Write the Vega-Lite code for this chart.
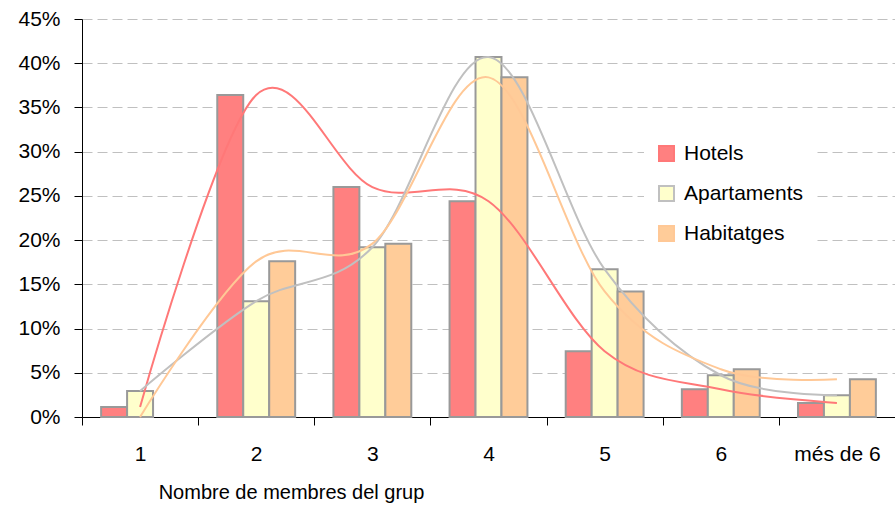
{
 "$schema": "https://vega.github.io/schema/vega-lite/v6.json",
 "width": 813,
 "height": 398,
 "autosize": {"type": "none"},
 "padding": {"left": 82, "top": 19, "right": 0, "bottom": 89},
 "background": "white",
 "config": {"view": {"stroke": null}, "font": "Liberation Sans"},
 "data": {"values": [
   {"cat": "1", "series": "Hotels", "value": 0.0113},
   {"cat": "1", "series": "Apartaments", "value": 0.0294},
   {"cat": "1", "series": "Habitatges", "value": 0},
   {"cat": "2", "series": "Hotels", "value": 0.364},
   {"cat": "2", "series": "Apartaments", "value": 0.131},
   {"cat": "2", "series": "Habitatges", "value": 0.176},
   {"cat": "3", "series": "Hotels", "value": 0.26},
   {"cat": "3", "series": "Apartaments", "value": 0.192},
   {"cat": "3", "series": "Habitatges", "value": 0.196},
   {"cat": "4", "series": "Hotels", "value": 0.244},
   {"cat": "4", "series": "Apartaments", "value": 0.407},
   {"cat": "4", "series": "Habitatges", "value": 0.384},
   {"cat": "5", "series": "Hotels", "value": 0.0744},
   {"cat": "5", "series": "Apartaments", "value": 0.167},
   {"cat": "5", "series": "Habitatges", "value": 0.142},
   {"cat": "6", "series": "Hotels", "value": 0.0314},
   {"cat": "6", "series": "Apartaments", "value": 0.0472},
   {"cat": "6", "series": "Habitatges", "value": 0.054},
   {"cat": "més de 6", "series": "Hotels", "value": 0.0159},
   {"cat": "més de 6", "series": "Apartaments", "value": 0.0246},
   {"cat": "més de 6", "series": "Habitatges", "value": 0.0427}
 ]},
 "layer": [
  {
   "transform": [{"filter": "datum.value > 0"}],
   "mark": {"type": "bar", "stroke": "#999999", "strokeWidth": 2},
   "encoding": {
    "x": {
     "field": "cat", "type": "nominal", "sort": null,
     "scale": {"paddingInner": 0, "paddingOuter": 0},
     "axis": {
      "title": "Nombre de membres del grup",
      "labelAngle": 0,
      "tickBand": "extent",
      "tickSize": 8,
      "tickColor": "#000000",
      "domainColor": "#000000",
      "labelFontSize": 21,
      "labelPadding": 18,
      "labelColor": "#000000",
      "titleFontSize": 20,
      "titleFontWeight": "normal",
      "titleColor": "#000000",
      "titleX": 209,
      "titleY": 81,
      "titleAlign": "center",
      "titleBaseline": "alphabetic",
      "grid": false
     }
    },
    "xOffset": {"field": "series", "sort": ["Hotels", "Apartaments", "Habitatges"], "scale": {"paddingInner": 0, "paddingOuter": 0.737}},
    "y": {
     "field": "value", "type": "quantitative",
     "scale": {"domain": [0, 0.45], "nice": false},
     "axis": {
      "title": null,
      "values": [0, 0.05, 0.1, 0.15, 0.2, 0.25, 0.3, 0.35, 0.4, 0.45],
      "format": ".0%",
      "tickSize": 8,
      "labelPadding": 14,
      "labelFontSize": 21,
      "labelColor": "#000000",
      "domainColor": "#000000",
      "tickColor": "#000000",
      "gridColor": "#C0C0C0",
      "gridDash": [10, 5],
      "gridWidth": 1
     }
    },
    "color": {
     "field": "series", "type": "nominal",
     "sort": ["Hotels", "Apartaments", "Habitatges"],
     "scale": {"domain": ["Hotels", "Apartaments", "Habitatges"], "range": ["#FF8080", "#FFFFCC", "#FFCC99"]},
     "legend": {
      "title": null,
      "orient": "none",
      "legendX": 562,
      "legendY": 112,
      "fillColor": "white",
      "padding": 12,
      "symbolType": "square",
      "symbolSize": 225,
      "symbolOpacity": 1,
      "symbolStrokeColor": "#999999",
      "symbolStrokeWidth": 2,
      "labelFontSize": 21,
      "labelColor": "#000000",
      "rowPadding": 17,
      "labelOffset": 7,
      "encode": {"symbols": {"enter": {"stroke": {"value": "#999999"}, "strokeWidth": {"value": 2}}, "update": {"stroke": {"value": "#999999"}, "strokeWidth": {"value": 2}}}}
     }
    }
   }
  },
  {
   "mark": {"type": "line", "interpolate": "cardinal", "strokeWidth": 2},
   "encoding": {
    "x": {"field": "cat", "type": "nominal", "sort": null, "bandPosition": 0.5},
    "y": {"field": "value", "type": "quantitative"},
    "detail": {"field": "series"},
    "stroke": {
     "field": "series", "type": "nominal",
     "scale": {"domain": ["Hotels", "Apartaments", "Habitatges"], "range": ["#FF7878", "#C0C0C0", "#FFC896"]},
     "legend": null
    }
   }
  }
 ]
}
